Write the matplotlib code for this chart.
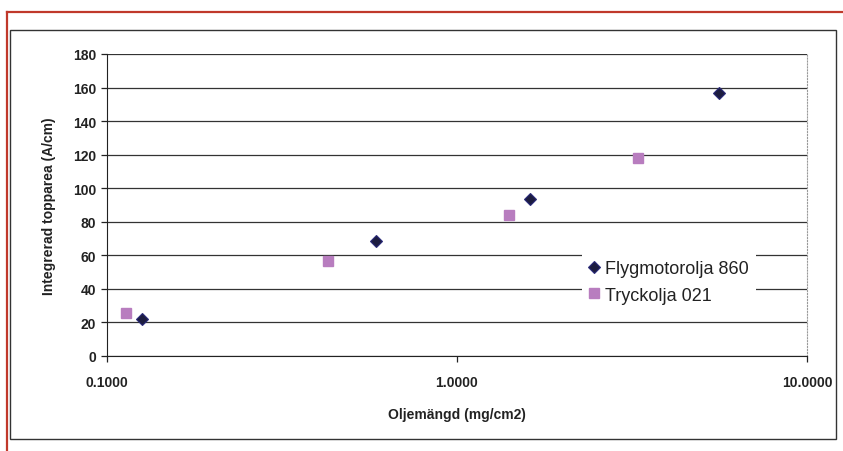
import matplotlib.pyplot as plt
from matplotlib.lines import Line2D
from matplotlib.ticker import FixedLocator, NullLocator

plt.rcParams['font.family'] = ['Liberation Sans', 'DejaVu Sans']

# Flygmotorolja 860 (diamonds)
flyg_x = [0.126, 0.587, 1.62, 5.61]
flyg_y = [22, 68.5, 93.5, 157]
# Tryckolja 021 (squares)
tryck_x = [0.113, 0.428, 1.41, 3.29]
tryck_y = [25.6, 56.6, 84, 118]

x_ticks = [0.1, 1, 10]
x_labels = ['0.1000', '1.0000', '10.0000']
y_ticks = list(range(0, 181, 20))

fig = plt.figure(figsize=(8.43, 4.52), dpi=100)
ax = fig.add_axes([107 / 843, 1 - 357 / 452, 700 / 843, 302 / 452])

ax.set_xscale('log')
ax.set_xlim(0.1, 10)
ax.set_ylim(0, 180)
ax.xaxis.set_major_locator(FixedLocator(x_ticks))
ax.xaxis.set_minor_locator(NullLocator())
ax.set_xticklabels(x_labels)
ax.set_yticks(y_ticks)

ax.grid(axis='y', color='#333333', linewidth=0.9)
ax.set_axisbelow(True)
ax.spines['top'].set_visible(False)
ax.spines['right'].set_color('#999999')
ax.spines['right'].set_linestyle(':')
ax.spines['left'].set_color('#222222')
ax.spines['bottom'].set_color('#222222')
ax.tick_params(direction='out', length=4, width=0.9, color='#222222',
               labelsize=10, pad=4)
ax.tick_params(axis='x', pad=10)
for lab in ax.get_xticklabels() + ax.get_yticklabels():
    lab.set_fontweight('bold')
    lab.set_color('#222222')

ax.plot(flyg_x, flyg_y, linestyle='none', marker='D', markersize=6.2,
        color='#1c1c40', markeredgecolor='#2a2a7a', markeredgewidth=0.8,
        label='Flygmotorolja 860')
ax.plot(tryck_x, tryck_y, linestyle='none', marker='s', markersize=7.5,
        color='#b87dbf', markeredgecolor='#b87dbf', label='Tryckolja 021')

ax.set_xlabel('Oljemängd (mg/cm2)', fontsize=10, fontweight='bold',
              color='#222222', labelpad=13)
ax.set_ylabel('Integrerad topparea (A/cm)', fontsize=10, fontweight='bold',
              color='#222222', labelpad=12)

leg = ax.legend(loc='center left', bbox_to_anchor=(0.665, 0.245),
                fontsize=13, frameon=True, fancybox=False,
                handlelength=0.6, handletextpad=0.3, labelspacing=0.5,
                borderpad=0.4)
leg.get_frame().set_facecolor('white')
leg.get_frame().set_edgecolor('none')
leg.get_frame().set_alpha(1)
for t in leg.get_texts():
    t.set_color('#222222')

# outer borders (red page frame and black chart frame)
W, H = 843, 452
fig.add_artist(Line2D([7 / W, 1], [1 - 13 / H, 1 - 13 / H], color='#c0392b', lw=1.6))
fig.add_artist(Line2D([7 / W, 7 / W], [0, 1 - 13 / H], color='#c0392b', lw=1.6))
fig.add_artist(plt.Rectangle((10 / W, 1 - 440 / H), 826 / W, 409 / H,
                             fill=False, edgecolor='#333333', lw=1.0))

fig.savefig('out.png', dpi=100)
